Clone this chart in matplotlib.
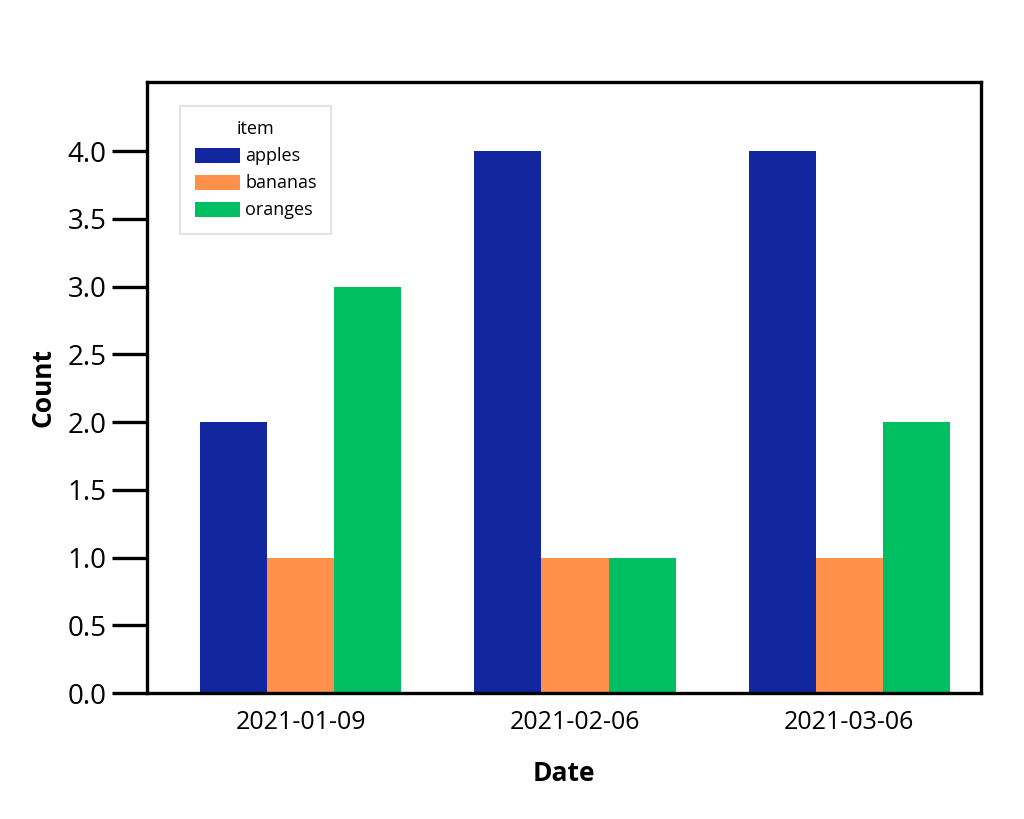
import matplotlib.pyplot as plt
import numpy as np

plt.rcParams['font.family'] = ['Open Sans', 'DejaVu Sans']

dates = ['2021-01-09', '2021-02-06', '2021-03-06']
items = ['apples', 'bananas', 'oranges']
apples = [2, 4, 4]
bananas = [1, 1, 1]
oranges = [3, 1, 2]
colors = ['#1226A0', '#FF914D', '#00BF63']

fig = plt.figure(figsize=(10.24, 8.19), dpi=100)
ax = fig.add_axes([0.1436, 0.1538, 0.8144, 0.7461])

x = np.arange(len(dates))
width = 0.245
for i, (name, vals) in enumerate(zip(items, [apples, bananas, oranges])):
    ax.bar(x + (i - 1) * width, vals, width, color=colors[i], label=name)

ax.set_xlim(-0.56, 2.48)
ax.set_ylim(0, 4.51)
ax.set_yticks(np.arange(0, 4.01, 0.5))
ax.set_xticks(x)
ax.set_xticklabels(dates)

for s in ax.spines.values():
    s.set_linewidth(2.4)
ax.tick_params(axis='y', length=25, width=2.4, labelsize=20, pad=4)
ax.tick_params(axis='x', length=0, labelsize=18, pad=12)

ax.set_xlabel('Date', fontsize=19, fontweight='bold', labelpad=18)
ax.set_ylabel('Count', fontsize=19, fontweight='bold', labelpad=8)

leg = ax.legend(title='item', loc='upper left', bbox_to_anchor=(0.04, 0.961),
                borderaxespad=0, fontsize=13, title_fontsize=13, fancybox=False,
                edgecolor='#dddddd', handlelength=2.5, handleheight=0.9,
                handletextpad=0.3, borderpad=0.8, labelspacing=0.5)
leg.get_frame().set_linewidth(1.5)

fig.savefig('out.png', dpi=100)
